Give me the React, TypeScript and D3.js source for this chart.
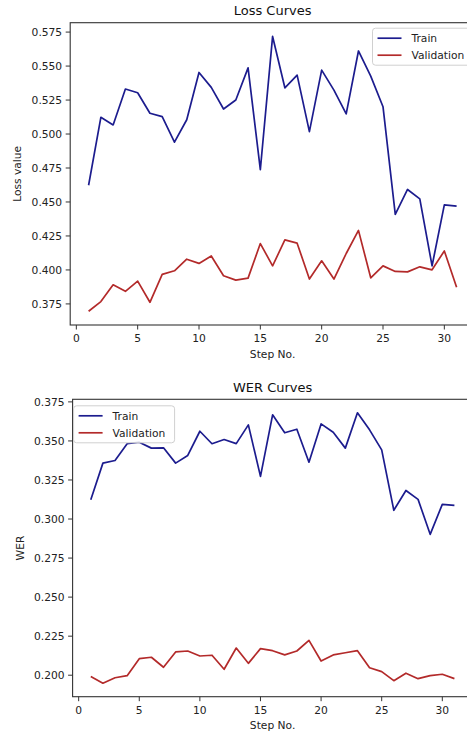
import React from "react";
import * as d3 from "d3";

const steps = d3.range(1, 32);

const lossTrain = [0.4623, 0.5123, 0.5067, 0.5331, 0.5304, 0.5153, 0.5128, 0.494, 0.5105, 0.5453, 0.5343, 0.5184, 0.525, 0.5487, 0.4738, 0.5718, 0.534, 0.5433, 0.5018, 0.547, 0.5323, 0.5148, 0.5611, 0.5426, 0.5201, 0.4409, 0.4592, 0.4523, 0.403, 0.4479, 0.4469];
const lossVal = [0.3696, 0.3767, 0.3891, 0.3843, 0.3918, 0.3762, 0.3967, 0.3994, 0.4079, 0.4048, 0.4103, 0.3957, 0.3925, 0.394, 0.4194, 0.403, 0.4221, 0.4197, 0.3933, 0.4067, 0.3933, 0.4121, 0.4291, 0.3942, 0.403, 0.3989, 0.3986, 0.4023, 0.4001, 0.414, 0.3872];
const werTrain = [0.3124, 0.3358, 0.3375, 0.3482, 0.3492, 0.3454, 0.3456, 0.3358, 0.3407, 0.3562, 0.3482, 0.3509, 0.3483, 0.3603, 0.3273, 0.3667, 0.3552, 0.3575, 0.3364, 0.3609, 0.3556, 0.3454, 0.368, 0.3571, 0.3443, 0.3056, 0.3183, 0.3126, 0.2902, 0.3094, 0.3088];
const werVal = [0.1991, 0.1949, 0.1984, 0.1997, 0.2106, 0.2115, 0.2051, 0.2149, 0.2155, 0.2123, 0.2128, 0.2038, 0.2174, 0.2076, 0.217, 0.2157, 0.213, 0.2155, 0.2223, 0.2091, 0.213, 0.2144, 0.2157, 0.2048, 0.2023, 0.1965, 0.2013, 0.1978, 0.1997, 0.2006, 0.1978];

const xTicks = [0, 5, 10, 15, 20, 25, 30];
const lossTicks = [0.375, 0.4, 0.425, 0.45, 0.475, 0.5, 0.525, 0.55, 0.575];
const werTicks = [0.2, 0.225, 0.25, 0.275, 0.3, 0.325, 0.35, 0.375];
const seriesNames = ["Train", "Validation"];

const TRAIN_C = "#1c1c8e";
const VAL_C = "#b32a2a";
const FONT = "DejaVu Sans, sans-serif";

type PanelProps = {
  left: number; right: number; top: number; bottom: number;
  title: string; ylabel: string; ylabelX: number;
  train: number[]; val: number[]; yTicks: number[];
  legend: "ur" | "ul";
};

function Panel(p: PanelProps) {
  const all = [...p.train, ...p.val];
  const lo = d3.min(all)!, hi = d3.max(all)!;
  const pad = (hi - lo) * 0.05;
  const x = d3.scaleLinear().domain([-0.5, 32.5]).range([p.left, p.right]);
  const y = d3.scaleLinear().domain([lo - pad, hi + pad]).range([p.bottom, p.top]);
  const line = d3.line<number>().x((_, i) => x(steps[i])).y((d) => y(d));
  const cx = (p.left + p.right) / 2;
  const cy = (p.top + p.bottom) / 2;
  const lg = p.legend === "ur"
    ? { x: 372.5, y: p.top + 5.5, w: 100, h: 37 }
    : { x: p.left + 1, y: p.top + 6.5, w: 101, h: 37 };
  return (
    <g fontFamily={FONT}>
      <text x={cx} y={p.top - 7.5} textAnchor="middle" fontSize={13} fill="#111">{p.title}</text>
      <rect x={p.left} y={p.top} width={p.right - p.left} height={p.bottom - p.top} fill="none" stroke="#333" strokeWidth={1.1} />
      {p.yTicks.map((t) => (
        <g key={t}>
          <line x1={p.left - 4.5} x2={p.left} y1={y(t)} y2={y(t)} stroke="#333" strokeWidth={1} />
          <text x={p.left - 8} y={y(t) + 3.8} textAnchor="end" fontSize={10.7} fill="#222">{t.toFixed(3)}</text>
        </g>
      ))}
      {xTicks.map((t) => (
        <g key={t}>
          <line x1={x(t)} x2={x(t)} y1={p.bottom} y2={p.bottom + 4.5} stroke="#333" strokeWidth={1} />
          <text x={x(t)} y={p.bottom + 17} textAnchor="middle" fontSize={10.7} fill="#222">{t}</text>
        </g>
      ))}
      <text x={cx} y={p.bottom + 32.5} textAnchor="middle" fontSize={10.7} fill="#222">Step No.</text>
      <text transform={`translate(${p.ylabelX},${cy}) rotate(-90)`} textAnchor="middle" fontSize={10.7} fill="#222">{p.ylabel}</text>
      <path d={line(p.train) ?? ""} fill="none" stroke={TRAIN_C} strokeWidth={1.7} strokeLinejoin="round" />
      <path d={line(p.val) ?? ""} fill="none" stroke={VAL_C} strokeWidth={1.7} strokeLinejoin="round" />
      <rect x={lg.x} y={lg.y} width={lg.w} height={lg.h} rx={3} fill="white" fillOpacity={0.85} stroke="#d0d0d0" strokeWidth={1} />
      {seriesNames.map((n, i) => (
        <g key={n}>
          <line x1={lg.x + 5} x2={lg.x + 29} y1={lg.y + 10 + i * 17} y2={lg.y + 10 + i * 17} stroke={i === 0 ? TRAIN_C : VAL_C} strokeWidth={1.7} />
          <text x={lg.x + 39} y={lg.y + 13.8 + i * 17} fontSize={10.7} fill="#222">{n}</text>
        </g>
      ))}
    </g>
  );
}

export default function App() {
  return (
    <svg width={467} height={735} style={{ position: "absolute", left: 0, top: 0, background: "white" }}>
      <rect width={467} height={735} fill="white" />
      <Panel left={70.2} right={475} top={22.7} bottom={325} title="Loss Curves" ylabel="Loss value" ylabelX={21}
        train={lossTrain} val={lossVal} yTicks={lossTicks} legend="ur" />
      <Panel left={72.6} right={472.6} top={399.3} bottom={696.7} title="WER Curves" ylabel="WER" ylabelX={24}
        train={werTrain} val={werVal} yTicks={werTicks} legend="ul" />
    </svg>
  );
}
